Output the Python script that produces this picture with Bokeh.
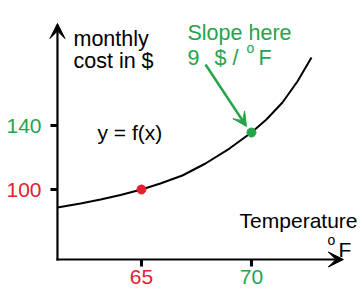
from bokeh.plotting import figure
from bokeh.models import Range1d, Label, Arrow, VeeHead
from bokeh.embed import file_html
from bokeh.resources import INLINE

# ---- data ----
curve_temp = [61.18, 62.23, 63.14, 64.05, 65.0, 65.86, 66.86, 67.91, 69.0, 70.0, 70.68, 71.41, 72.09, 72.73]
curve_cost = [88.75, 91.25, 93.75, 96.56, 100.0, 103.75, 108.75, 116.25, 125.6, 135.6, 143.75, 154.4, 167.5, 182.5]
x_ticks = [65, 70]
x_tick_labels = ["65", "70"]
y_ticks = [100, 140]
y_tick_labels = ["100", "140"]
red_point = (65, 100)
green_point = (70, 135.6)
axis_origin = (61.18, 56.25)
axis_x_end = 74.18
axis_y_end = 203.75

RED = "#e3202d"
GREEN = "#27a34b"
FONT = "Liberation Sans"

W, H = 364, 300
XR = (58.59, 75.14)
YR = (30.625, 218.125)

def px(x):
    return XR[0] + (XR[1] - XR[0]) * x / W

def py(y):
    return YR[1] - (YR[1] - YR[0]) * y / H

dx = (XR[1] - XR[0]) / W
dy = (YR[1] - YR[0]) / H

p = figure(width=W, height=H, output_backend="svg", toolbar_location=None,
           x_range=Range1d(*XR), y_range=Range1d(*YR), min_border=0)
p.xaxis.visible = False
p.yaxis.visible = False
p.xgrid.visible = False
p.ygrid.visible = False
p.outline_line_color = None
p.background_fill_color = "white"
p.border_fill_color = "white"

x0, y0 = axis_origin
# axes with arrow heads
p.add_layout(Arrow(end=VeeHead(size=15, fill_color="black", line_color="black", line_width=1),
                   x_start=x0, y_start=y0 - 1 * dy, x_end=x0, y_end=axis_y_end,
                   line_width=2.2, line_color="black"))
p.add_layout(Arrow(end=VeeHead(size=15, fill_color="black", line_color="black", line_width=1),
                   x_start=x0 - 1 * dx, y_start=y0, x_end=axis_x_end, y_end=y0,
                   line_width=2.2, line_color="black"))

# ticks
p.segment(x0=[x0 - 7 * dx] * len(y_ticks), y0=y_ticks, x1=[x0] * len(y_ticks), y1=y_ticks,
          line_width=3, line_color="black")
p.segment(x0=x_ticks, y0=[y0] * len(x_ticks), x1=x_ticks, y1=[y0 - 7 * dy] * len(x_ticks),
          line_width=3, line_color="black")

# tick labels
y_colors = [RED, GREEN]
for v, t, c in zip(y_ticks, y_tick_labels, y_colors):
    p.add_layout(Label(x=px(41), y=v, text=t, text_color=c, text_font=FONT,
                       text_font_size="21px", text_align="right", text_baseline="middle"))
x_colors = [RED, GREEN]
for v, t, c in zip(x_ticks, x_tick_labels, x_colors):
    p.add_layout(Label(x=v, y=py(269), text=t, text_color=c, text_font=FONT,
                       text_font_size="21px", text_align="center", text_baseline="top"))

# curve
p.line(curve_temp, curve_cost, line_width=2, line_color="black")

# points
p.scatter([red_point[0]], [red_point[1]], size=9, fill_color=RED, line_color=RED)
p.scatter([green_point[0]], [green_point[1]], size=9, fill_color=GREEN, line_color=GREEN)

# green arrow
p.add_layout(Arrow(end=VeeHead(size=14, fill_color=GREEN, line_color=GREEN, line_width=1),
                   x_start=px(205), y_start=py(64), x_end=px(246), y_end=py(126),
                   line_width=2.5, line_color=GREEN))

def lab(x, y, text, color="black", size="21px", align="left"):
    p.add_layout(Label(x=px(x), y=py(y), text=text, text_color=color, text_font=FONT,
                       text_font_size=size, text_align=align, text_baseline="alphabetic"))

lab(73, 38, "monthly", size="21.5px")
lab(73, 60, "cost in $", size="21.5px")
lab(97, 132, "y = f(x)")
lab(187, 32, "Slope here", GREEN, "21.5px")
lab(187, 57, "9", GREEN, "21.5px")
lab(214, 57, "$ /", GREEN, "21.5px")
lab(246, 47, "o", GREEN, "14px")
lab(258, 57, "F", GREEN, "21.5px")
lab(357, 220, "Temperature", align="right")
lab(327, 239, "o", size="14px")
lab(338, 249, "F")

open("out.html", "w").write(file_html(p, INLINE))
